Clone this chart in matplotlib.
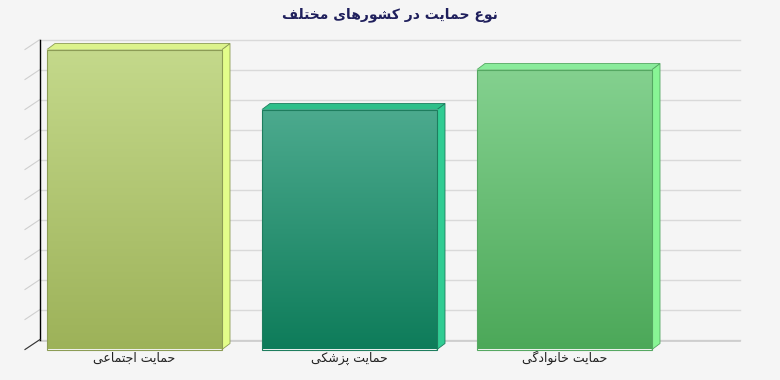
import numpy as np
import matplotlib
matplotlib.use("Agg")
import matplotlib.pyplot as plt
from matplotlib.patches import Polygon
from matplotlib.colors import LinearSegmentedColormap

# chart data
title = "نوع حمایت در کشورهای مختلف"
categories = ["حمایت اجتماعی", "حمایت پزشکی", "حمایت خانوادگی"]
values = [15, 12, 14]
y_max = 15
n_grid = 10

# colors per bar: (front bottom, front top, top face, side face, edge)
bar_colors = [
    ("#9db259", "#c4d98b", "#dcf38c", "#e3fd8a", "#8c9c55"),
    ("#0e7c5a", "#4caa8e", "#2fbf8a", "#30cc93", "#1e7d5e"),
    ("#4ca859", "#84d18f", "#8aeb9b", "#88f595", "#55a862"),
]

# presentation forms (isolated, final, initial, medial) - matplotlib has no arabic shaping
FORMS = {
    "ا": (0xFE8D, 0xFE8E), "د": (0xFEA9, 0xFEAA), "ر": (0xFEAD, 0xFEAE),
    "ز": (0xFEAF, 0xFEB0), "و": (0xFEED, 0xFEEE),
    "ت": (0xFE95, 0xFE96, 0xFE97, 0xFE98), "ج": (0xFE9D, 0xFE9E, 0xFE9F, 0xFEA0),
    "ح": (0xFEA1, 0xFEA2, 0xFEA3, 0xFEA4), "خ": (0xFEA5, 0xFEA6, 0xFEA7, 0xFEA8),
    "ش": (0xFEB5, 0xFEB6, 0xFEB7, 0xFEB8), "ع": (0xFEC9, 0xFECA, 0xFECB, 0xFECC),
    "ف": (0xFED1, 0xFED2, 0xFED3, 0xFED4), "ل": (0xFEDD, 0xFEDE, 0xFEDF, 0xFEE0),
    "م": (0xFEE1, 0xFEE2, 0xFEE3, 0xFEE4), "ن": (0xFEE5, 0xFEE6, 0xFEE7, 0xFEE8),
    "ه": (0xFEE9, 0xFEEA, 0xFEEB, 0xFEEC), "پ": (0xFB56, 0xFB57, 0xFB58, 0xFB59),
    "ک": (0xFB8E, 0xFB8F, 0xFB90, 0xFB91), "گ": (0xFB92, 0xFB93, 0xFB94, 0xFB95),
    "ی": (0xFBFC, 0xFBFD, 0xFBFE, 0xFBFF),
}


def fa(text):
    out = []
    for i, c in enumerate(text):
        if c not in FORMS:
            out.append(c)
            continue
        forms = FORMS[c]
        prev = text[i - 1] if i > 0 else None
        nxt = text[i + 1] if i < len(text) - 1 else None
        join_prev = prev in FORMS and len(FORMS[prev]) == 4
        join_next = len(forms) == 4 and nxt in FORMS
        if join_prev and join_next:
            f = forms[3]
        elif join_prev:
            f = forms[1]
        elif join_next:
            f = forms[2]
        else:
            f = forms[0]
        out.append(chr(f))
    return "".join(out[::-1])


plt.rcParams["font.family"] = ["DejaVu Sans"]
bg = "#f5f5f5"

fig = plt.figure(figsize=(7.8, 3.8), dpi=100, facecolor=bg)
ax = fig.add_axes([0, 0, 1, 1])
ax.set_facecolor(bg)

# pixel sizes in data units (215 px per category, 20 px per value unit)
px_x = 1 / 215
px_y = 1 / 20

bar_w = 175 * px_x
depth_x, depth_y = 8 * px_x, 6 * px_y
wall_x, wall_y = 15 * px_x, 10 * px_y
wall_left = -94.5 * px_x
wall_right = 605.5 * px_x

# back wall grid + slanted ticks on the left side wall
for g in np.linspace(0, y_max, n_grid + 1):
    ax.plot([wall_left, wall_right], [g + wall_y, g + wall_y], color="#d9d9d9", lw=1, zorder=1)
    ax.plot([wall_left - wall_x, wall_left], [g, g + wall_y], color="#cfcfcf", lw=0.8, zorder=1)
ax.plot([wall_left, wall_left], [wall_y, y_max + wall_y], color="black", lw=1, zorder=2)
ax.plot([wall_left - wall_x, wall_left], [0, wall_y], color="#333333", lw=0.8, zorder=2)

# floor edge
ax.plot([wall_left, wall_right], [wall_y * 0.9, wall_y * 0.9], color="#cccccc", lw=1.2, zorder=1)

for i, (v, cols) in enumerate(zip(values, bar_colors)):
    bottom_c, top_c, topface_c, side_c, edge_c = cols
    x0 = i - bar_w / 2
    x1 = i + bar_w / 2
    # side and top faces
    side = Polygon([(x1, 0), (x1 + depth_x, depth_y), (x1 + depth_x, v + depth_y), (x1, v)],
                   closed=True, facecolor=side_c, edgecolor=edge_c, lw=0.6, zorder=3)
    top = Polygon([(x0, v), (x1, v), (x1 + depth_x, v + depth_y), (x0 + depth_x, v + depth_y)],
                  closed=True, facecolor=topface_c, edgecolor=edge_c, lw=0.6, zorder=3)
    ax.add_patch(side)
    ax.add_patch(top)
    # front face with vertical gradient
    cmap = LinearSegmentedColormap.from_list("g%d" % i, [bottom_c, top_c])
    grad = np.linspace(0, 1, 256).reshape(-1, 1)
    ax.imshow(grad, extent=[x0, x1, 0, v], origin="lower", cmap=cmap,
              aspect="auto", interpolation="bilinear", zorder=4)
    ax.add_patch(Polygon([(x0, 0), (x1, 0), (x1, v), (x0, v)], closed=True,
                         facecolor="none", edgecolor=edge_c, lw=0.8, zorder=5))
    ax.text(i, -8.5 * px_y, fa(categories[i]), ha="center", va="center",
            fontsize=9, color="#222222")

fig.text(0.5, 1 - 15 / 380, fa(title), ha="center", va="center", fontsize=10,
         fontweight="bold", color="#1f1f5c")

ax.set_xlim(-134.5 * px_x, 645.5 * px_x)
ax.set_ylim(-30.5 * px_y, 349.5 * px_y)
ax.axis("off")

fig.savefig("out.png", dpi=100, facecolor=bg)
